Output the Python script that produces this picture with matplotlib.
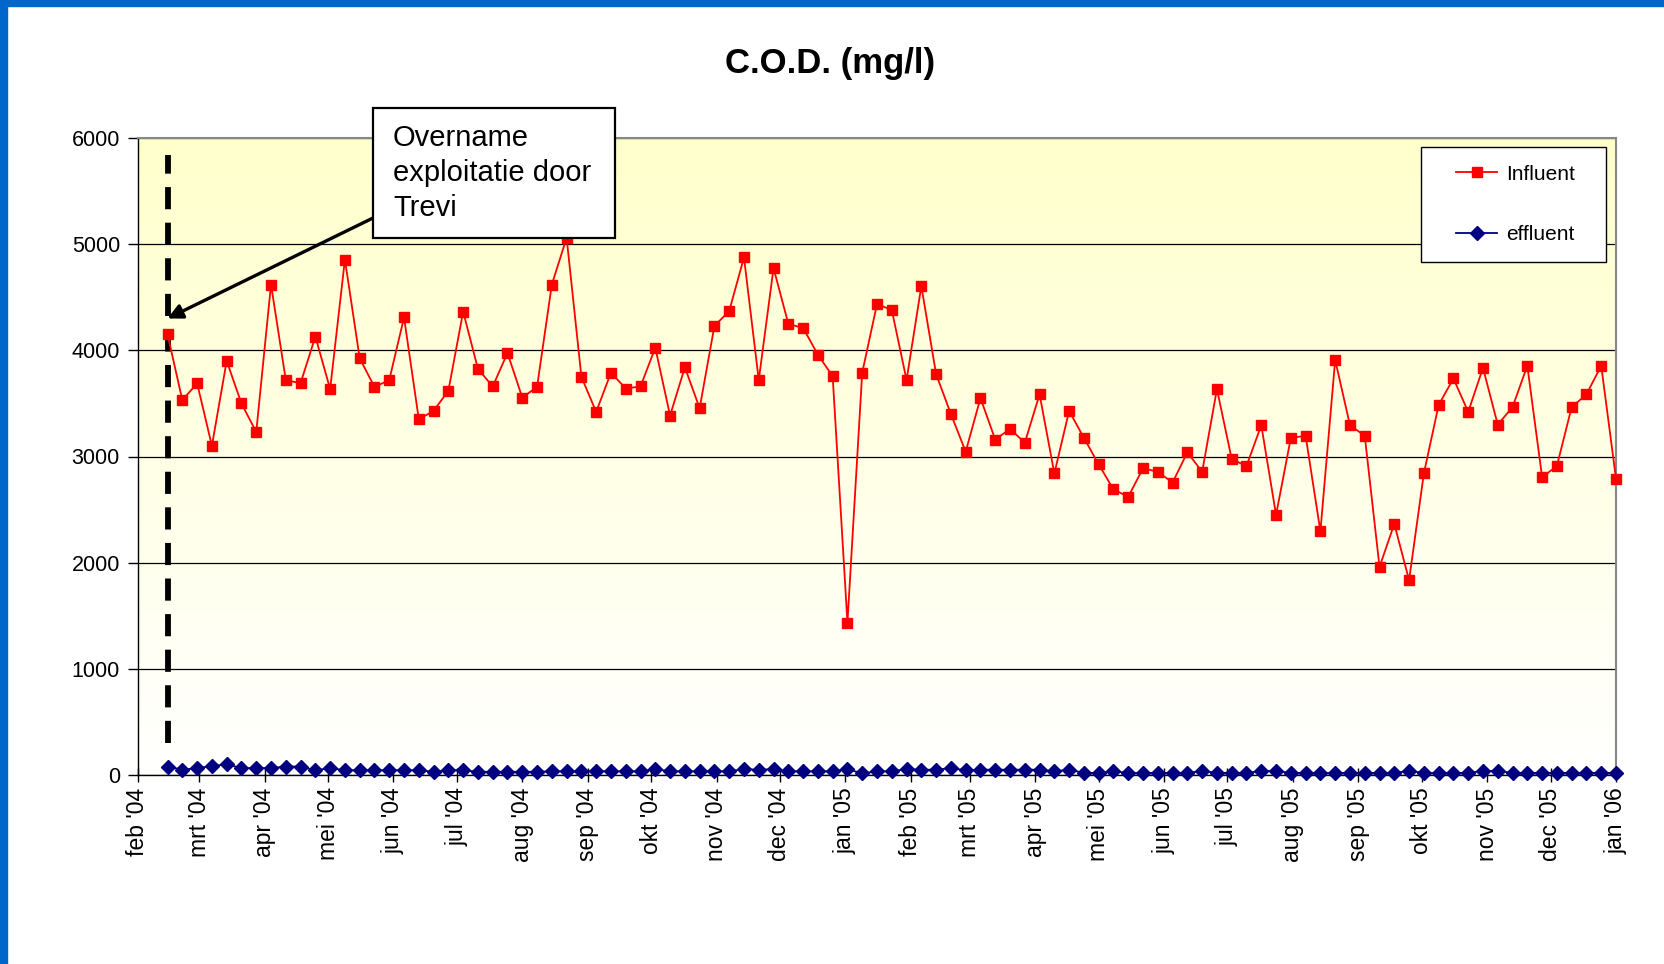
import numpy as np
import pandas as pd
import matplotlib
matplotlib.use("Agg")
import matplotlib.pyplot as plt
from matplotlib.patches import Rectangle
from matplotlib.colors import LinearSegmentedColormap

plt.rcParams['font.family'] = ['Liberation Sans', 'DejaVu Sans']

# ---------------- data ----------------
title = "C.O.D. (mg/l)"
first_sample = "2004-02-15"

influent = [4150, 3530, 3690, 3100, 3900, 3500, 3230, 4620, 3720, 3690,
            4130, 3635, 4855, 3925, 3655, 3720, 4310, 3350, 3430, 3620,
            4365, 3825, 3660, 3975, 3555, 3655, 4620, 5060, 3750, 3420,
            3790, 3640, 3660, 4025, 3385, 3840, 3455, 4230, 4370, 4875,
            3720, 4775, 4250, 4210, 3960, 3755, 1435, 3790, 4435, 4380,
            3720, 4605, 3775, 3400, 3045, 3550, 3160, 3260, 3130, 3585,
            2840, 3430, 3175, 2925, 2690, 2620, 2890, 2855, 2755, 3040,
            2855, 3635, 2975, 2910, 3295, 2450, 3175, 3195, 2295, 3910,
            3295, 3195, 1960, 2365, 1835, 2840, 3485, 3735, 3420, 3835,
            3300, 3465, 3855, 2805, 2910, 3465, 3585, 3855, 2790]

effluent = [80, 50, 65, 85, 100, 65, 65, 65, 80, 80,
            45, 65, 45, 45, 45, 45, 45, 45, 30, 45,
            45, 30, 30, 30, 30, 30, 35, 35, 35, 35,
            35, 35, 35, 55, 35, 35, 35, 35, 35, 55,
            50, 55, 35, 35, 35, 35, 55, 15, 35, 35,
            55, 50, 50, 65, 45, 50, 50, 50, 50, 50,
            35, 50, 20, 20, 35, 20, 20, 20, 20, 20,
            38, 20, 20, 20, 38, 38, 20, 20, 20, 20,
            20, 20, 20, 20, 38, 20, 20, 20, 20, 38,
            38, 20, 20, 20, 20, 20, 20, 20, 20]

dates = pd.date_range(first_sample, periods=len(influent), freq="7D")

month_ticks = pd.date_range("2004-02-01", "2006-01-01", freq="MS")
month_labels = ["feb '04", "mrt '04", "apr '04", "mei '04", "jun '04", "jul '04",
                "aug '04", "sep '04", "okt '04", "nov '04", "dec '04", "jan '05",
                "feb '05", "mrt '05", "apr '05", "mei '05", "jun '05", "jul '05",
                "aug '05", "sep '05", "okt '05", "nov '05", "dec '05", "jan '06"]
yticks = [0, 1000, 2000, 3000, 4000, 5000, 6000]
annot_text = "Overname\nexploitatie door\nTrevi"
arrow_head_value = 4300
dash_range = [300, 5840]

# ---------------- figure ----------------
W, H = 1665, 964
fig = plt.figure(figsize=(W / 100, H / 100), dpi=100)
fig.patch.set_facecolor('white')

rect = [138 / W, 1 - 775 / H, (1616 - 138) / W, (775 - 138) / H]

bg = fig.add_axes(rect, zorder=0)
cmap = LinearSegmentedColormap.from_list('bgy', ['#FFFFFF', '#FFFFCC'])
bg.imshow(np.linspace(1, 0, 256).reshape(-1, 1), cmap=cmap, aspect='auto',
          extent=[0, 1, 0, 1], interpolation='bilinear')
bg.set_axis_off()

ax = fig.add_axes(rect, zorder=1)
ax.set_facecolor('none')

ax.yaxis.grid(True, color='black', lw=0.9)
ax.set_axisbelow(True)

ax.plot(dates, influent, color='#FF0000', lw=1.3, marker='s', ms=6.5,
        mfc='#FF0000', mec='#FF0000', clip_on=False, zorder=4, label='Influent')
ax.plot(dates, effluent, color='#000080', lw=1.3, marker='D', ms=7,
        mfc='#000080', mec='#000080', clip_on=False, zorder=4, label='effluent')

ax.plot([dates[0], dates[0]], dash_range, color='black', lw=4.2,
        linestyle=(0, (3.8, 2.3)), dash_capstyle='butt', zorder=3)

ax.set_xlim(pd.Timestamp("2004-02-01"), pd.Timestamp("2006-01-01"))
ax.set_ylim(0, 6000)
ax.set_yticks(yticks)
ax.set_yticklabels([str(v) for v in yticks])
ax.set_xticks(month_ticks)
ax.set_xticklabels(month_labels, rotation=90, ha='center', va='top')

ax.tick_params(axis='x', direction='inout', length=10, width=1, pad=4, labelsize=16.5)
ax.tick_params(axis='y', direction='out', length=7, width=1, pad=6, labelsize=15.5)

for s in ['top', 'right']:
    ax.spines[s].set_color('#888888')
    ax.spines[s].set_linewidth(1.5)
for s in ['left', 'bottom']:
    ax.spines[s].set_color('black')
    ax.spines[s].set_linewidth(1.0)

# legend with manual frame
ax.add_patch(Rectangle((0.868, 0.805), 0.125, 0.181, transform=ax.transAxes,
                       fc='white', ec='black', lw=1.0, zorder=6, clip_on=False))
leg = ax.legend(loc='center', bbox_to_anchor=(0.9318, 0.8955), frameon=False,
                fontsize=15, handlelength=2.0, handletextpad=0.4, labelspacing=2.0,
                borderpad=0)
leg.set_zorder(7)

# title
fig.text(830 / W, 1 - 64 / H, title, ha='center', va='center',
         fontsize=25, fontweight='bold')

# annotation box
fig.add_artist(Rectangle((373 / W, 1 - 238 / H), 242 / W, 130 / H,
                         transform=fig.transFigure, fc='white', ec='black',
                         lw=1.6, zorder=5))
fig.text(393 / W, 1 - 173 / H, annot_text, ha='left', va='center',
         fontsize=21, linespacing=1.32, zorder=6)

ax.annotate('', xy=(dates[0], arrow_head_value), xycoords='data',
            xytext=(373 / W, 1 - 218 / H), textcoords='figure fraction',
            arrowprops=dict(arrowstyle='-|>', lw=2.4, color='black',
                            mutation_scale=22, shrinkA=0, shrinkB=0),
            zorder=8, annotation_clip=False)

# blue frame edges
fig.add_artist(Rectangle((0, 0), 7 / W, 1, transform=fig.transFigure,
                         color='#0066CC', zorder=10))
fig.add_artist(Rectangle((0, 1 - 6 / H), 1, 6 / H, transform=fig.transFigure,
                         color='#0066CC', zorder=10))

fig.savefig("out.png", dpi=100)
